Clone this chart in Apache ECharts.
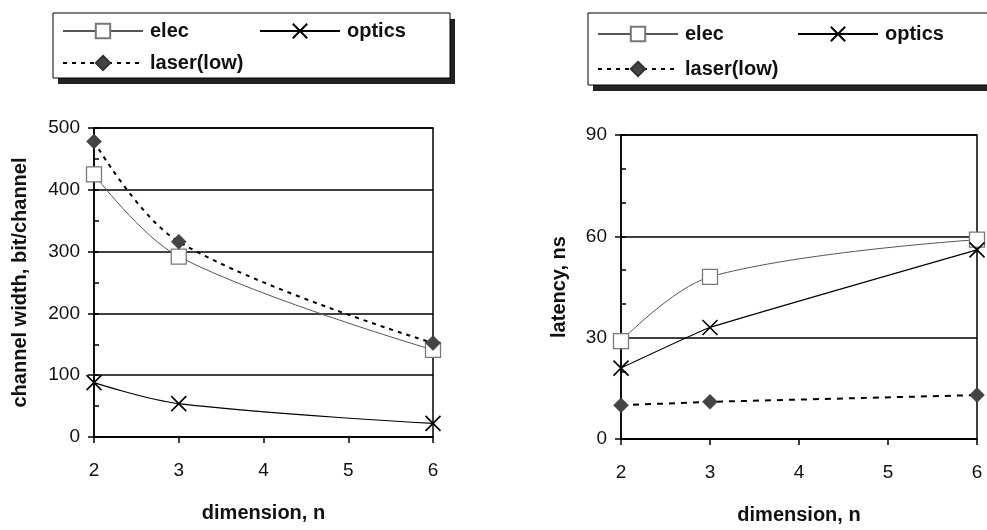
<!DOCTYPE html>
<html>
<head>
<meta charset="utf-8">
<script src="https://cdn.jsdelivr.net/npm/echarts@6/dist/echarts.min.js"></script>
<style>
html,body{margin:0;padding:0;background:#fff;}
#c{width:987px;height:530px;}
</style>
</head>
<body>
<div id="c"></div>
<script>
// ---- data ----
var dims = [2, 3, 6];
var xTicks = [2, 3, 4, 5, 6];
var widthElec = [425, 292, 141];
var widthOptics = [88, 54, 22];
var widthLaser = [478, 316, 152];
var latElec = [29, 48, 59];
var latOptics = [21, 33, 56];
var latLaser = [10, 11, 13];
var seriesNames = ['elec', 'optics', 'laser(low)'];

function pairs(vals) { return dims.map(function (d, i) { return [d, vals[i]]; }); }

var FONT = 'Liberation Sans, Arial, sans-serif';
var XPATH = 'path://M0,0L10,10M10,0L0,10';

function mkSeries(name, vals, xi, yi, smooth, dash) {
  var s = {
    name: name, type: 'line', xAxisIndex: xi, yAxisIndex: yi,
    data: pairs(vals), smooth: smooth, animation: false, z: 5
  };
  if (name === 'elec') {
    s.symbol = 'rect'; s.symbolSize = 15;
    s.itemStyle = { color: '#fff', borderColor: '#777', borderWidth: 1.3 };
    s.lineStyle = { color: '#555', width: 1 };
  } else if (name === 'optics') {
    s.symbol = XPATH; s.symbolSize = 15;
    s.itemStyle = { color: '#000', borderColor: '#000', borderWidth: 1.6 };
    s.lineStyle = { color: '#000', width: 1.2 };
  } else {
    s.symbol = 'diamond'; s.symbolSize = 15;
    s.itemStyle = { color: '#444', borderColor: '#333', borderWidth: 0.5 };
    s.lineStyle = { color: '#000', width: 2, type: dash };
  }
  return s;
}

function mainX(gi, gap) {
  return {
    type: 'value', gridIndex: gi, min: 2, max: 6, interval: 1,
    name: 'dimension, n', nameLocation: 'middle', nameGap: gap,
    nameTextStyle: { fontFamily: FONT, fontSize: 20, fontWeight: 'bold', color: '#111' },
    axisLine: { show: true, lineStyle: { color: '#000', width: 1.5 } },
    axisTick: { show: true, inside: false, length: 6, lineStyle: { color: '#000', width: 1.5 } },
    axisLabel: { margin: 24, fontFamily: FONT, fontSize: 19, color: '#111',
      formatter: function (v) { return xTicks.indexOf(v) >= 0 ? String(v) : ''; } },
    splitLine: { show: false }
  };
}
function overX(gi) {
  return {
    type: 'value', gridIndex: gi, min: 2, max: 6, interval: 1,
    axisLine: { show: false }, axisLabel: { show: false }, splitLine: { show: false },
    axisTick: { show: true, inside: true, length: 6, lineStyle: { color: '#000', width: 1.5 } }
  };
}
function mainY(gi, max, interval, name, gap) {
  return {
    type: 'value', gridIndex: gi, min: 0, max: max, interval: interval,
    name: name, nameLocation: 'middle', nameGap: gap,
    nameTextStyle: { fontFamily: FONT, fontSize: 20, fontWeight: 'bold', color: '#111' },
    axisLine: { show: true, lineStyle: { color: '#000', width: 1.5 } },
    axisTick: { show: true, inside: false, length: 6, lineStyle: { color: '#000', width: 1.5 } },
    axisLabel: { margin: 14, fontFamily: FONT, fontSize: 19, color: '#111' },
    splitLine: { show: true, lineStyle: { color: '#000', width: 1.6 } }
  };
}
function overY(gi, max, interval) {
  return {
    type: 'value', gridIndex: gi, min: 0, max: max, interval: interval, position: 'left',
    axisLine: { show: false }, axisLabel: { show: false }, splitLine: { show: false },
    axisTick: { show: true, inside: true, length: 5, lineStyle: { color: '#000', width: 1.5 } }
  };
}

function leg(name, left, top) {
  return {
    data: [name], left: left, top: top, orient: 'horizontal',
    itemWidth: 80, itemHeight: 18, itemGap: 5, selectedMode: false, padding: 0,
    textStyle: { fontFamily: FONT, fontSize: 20, fontWeight: 'bold', color: '#111', padding: [0, 0, 0, 2] },
    z: 10
  };
}

var chart = echarts.init(document.getElementById('c'), null, { renderer: 'canvas' });
chart.setOption({
  animation: false,
  backgroundColor: '#fff',
  grid: [
    { left: 94, right: 554, top: 128, bottom: 93, show: true, borderColor: '#000', borderWidth: 1.5 },
    { left: 621, right: 10, top: 135, bottom: 87, show: true, borderColor: '#000', borderWidth: 1.5 }
  ],
  xAxis: [mainX(0, 66), overX(0), mainX(1, 66), overX(1)],
  yAxis: [
    mainY(0, 500, 100, 'channel width, bit/channel', 64), overY(0, 500, 50),
    mainY(1, 90, 30, 'latency, ns', 52), overY(1, 90, 10)
  ],
  legend: [
    leg(seriesNames[0], 62, 21), leg(seriesNames[1], 259, 21), leg(seriesNames[2], 62, 53),
    leg(seriesNames[0], 597, 24), leg(seriesNames[1], 797, 24), leg(seriesNames[2], 597, 59)
  ],
  graphic: [
    { type: 'rect', z: 1, shape: { x: 58, y: 19, width: 397, height: 65 }, style: { fill: '#222' } },
    { type: 'rect', z: 2, shape: { x: 53, y: 13, width: 397, height: 65 }, style: { fill: '#fff', stroke: '#000', lineWidth: 1 } },
    { type: 'rect', z: 1, shape: { x: 593, y: 19, width: 420, height: 72 }, style: { fill: '#222' } },
    { type: 'rect', z: 2, shape: { x: 588, y: 13, width: 420, height: 72 }, style: { fill: '#fff', stroke: '#000', lineWidth: 1 } }
  ],
  series: [
    mkSeries('elec', widthElec, 0, 0, 0.35, 'solid'),
    mkSeries('optics', widthOptics, 0, 0, 0.35, 'solid'),
    mkSeries('laser(low)', widthLaser, 0, 0, 0.35, [4, 5]),
    mkSeries('elec', latElec, 2, 2, 0.35, 'solid'),
    mkSeries('optics', latOptics, 2, 2, 0.1, 'solid'),
    mkSeries('laser(low)', latLaser, 2, 2, 0, [6, 6])
  ]
});
</script>
</body>
</html>
